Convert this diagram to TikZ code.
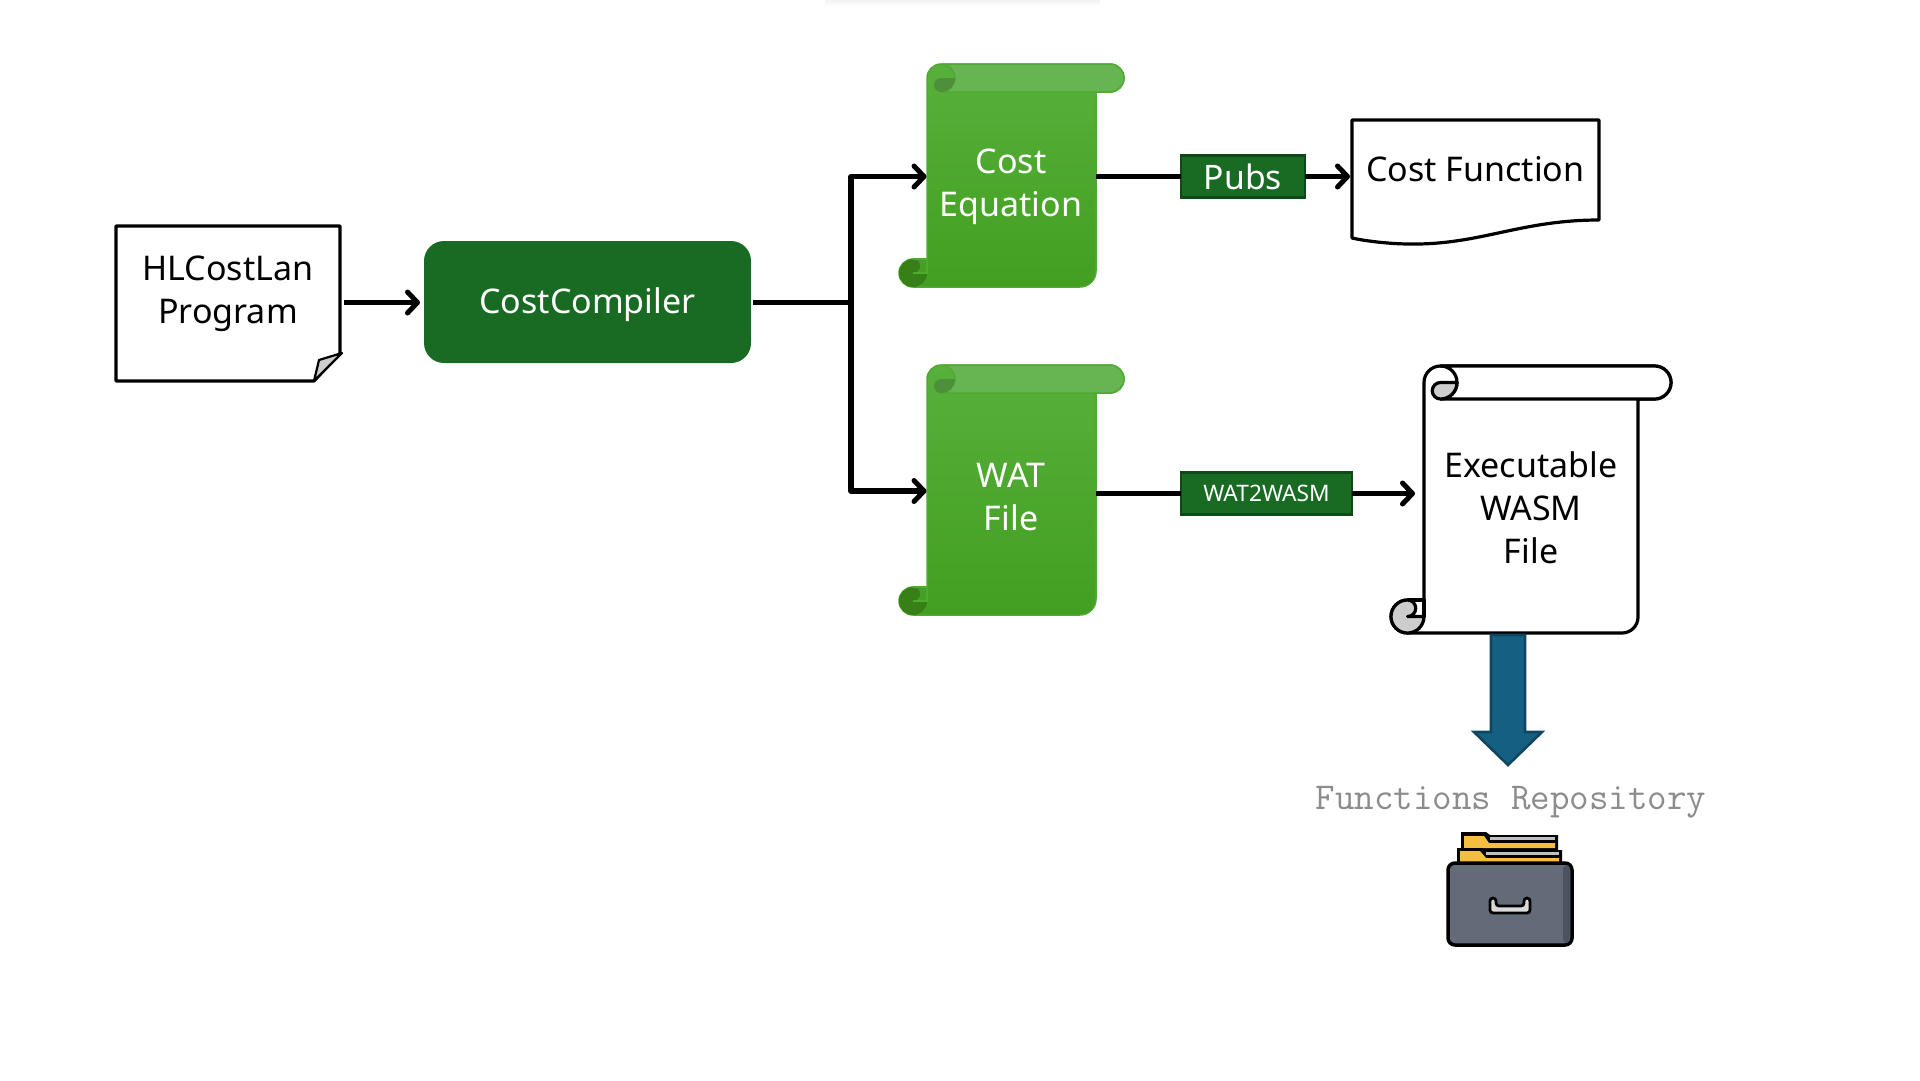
\documentclass[tikz,border=0pt]{standalone}
\usepackage{fontspec}
\setmainfont{Noto Sans}
\usetikzlibrary{arrows.meta,calc}
\definecolor{ccgreen}{HTML}{196B24}
\definecolor{ccedge}{HTML}{0E4A17}
\definecolor{topgreen}{HTML}{58B03C}
\definecolor{botgreen}{HTML}{429F20}
\definecolor{edgegreen}{HTML}{4EAA31}
\definecolor{rollgreen}{HTML}{66B552}
\definecolor{curlA}{HTML}{4E8F3C}
\definecolor{curlB}{HTML}{377F17}
\definecolor{curlgray}{HTML}{CDCDCD}
\definecolor{bluefill}{HTML}{156082}
\definecolor{blueedge}{HTML}{0F4761}
\definecolor{drawer}{HTML}{646B78}
\definecolor{drawerdark}{HTML}{4D535E}
\definecolor{folder}{HTML}{F4BE3F}
\tikzset{
  conn/.style={line width=5.4pt,draw=black},
  connarrow/.style={conn,-{Straight Barb[length=10pt,width=21pt,line width=5pt,round]}},
  outline/.style={draw=black,line width=3.2pt,line join=round},
  lbl/.style={inner sep=0pt,outer sep=0pt,align=center,font=\fontsize{34}{43}\selectfont},
  tagbox/.style={draw=ccedge,line width=2.8pt,fill=ccgreen,text=white,inner sep=0pt,outer sep=0pt},
}
% #1 L, #2 T, #3 R, #4 B, #5 roll right, #6 roll height, #7 bottom roll left, #8 bottom roll height, #9 body style
\newcommand{\scrollshape}[9]{%
  \pgfmathsetmacro{\hh}{#6/2}\pgfmathsetmacro{\hq}{#6/4}
  \pgfmathsetmacro{\Hh}{#8/2}\pgfmathsetmacro{\Hq}{#8/4}
  \pgfmathsetmacro{\cxb}{#7+\Hh}
  \path[#9] ({#1+\hh},#2) arc[start angle=270,end angle=180,radius=\hh]
    -- (#1,{#4-#8}) -- (\cxb,{#4-#8}) arc[start angle=270,end angle=90,radius=\Hh]
    -- ({#3-16},#4) arc[start angle=90,end angle=0,radius=16]
    -- (#3,{#2+#6}) -- ({#5-\hh},{#2+#6}) arc[start angle=90,end angle=-90,radius=\hh] -- cycle;
  \path[rollstyle] ({#1+\hh},#2) -- ({#5-\hh},#2) arc[start angle=-90,end angle=90,radius=\hh]
    -- ({#1+\hh},{#2+#6}) arc[start angle=90,end angle=-90,radius=\hh] -- cycle;
  \path[curlAstyle] ({#1+#6},{#2+\hh}) arc[start angle=0,end angle=90,radius=\hh]
    arc[start angle=90,end angle=270,radius=\hq] -- cycle;
  \path[curlBstyle] (\cxb,{#4-#8}) arc[start angle=270,end angle=90,radius=\Hh]
    arc[start angle=90,end angle=0,radius=\Hh] -- (\cxb,{#4-\Hh})
    arc[start angle=90,end angle=-90,radius=\Hq] -- cycle;
  \path[curlline] (\cxb,{#4-#8}) -- (#1,{#4-#8}) -- (#1,{#4-\Hh}) -- (\cxb,{#4-\Hh});
}
\begin{document}
\begin{tikzpicture}[x=1pt,y=1pt,yscale=-1]
\useasboundingbox (0,0) rectangle (1920,1080);
\fill[white] (0,0) rectangle (1920,1080);
\shade[top color=black!5,bottom color=white] (825,0) rectangle (1100,6);

% program document
\path[outline,fill=white] (116,226) -- (340,226) -- (340,353) -- (314,381) -- (116,381) -- cycle;
\path[outline,line width=2.2pt,fill=curlgray] (342,353) -- (319,360) -- (314,381) -- cycle;
\node[lbl,text width=224pt] (prog) at (228,294) {HLCostLan\\Program};

% compiler
\node[fill=ccgreen,rounded corners=20pt,minimum width=327pt,minimum height=122pt,inner sep=0pt,outer sep=2pt] (cc) at (587.5,302) {};
\node[text=white,inner sep=0pt,font=\fontsize{34}{43}\selectfont] (cclabel) at (587.5,305) {CostCompiler};

% green scrolls
\begin{scope}[
  rollstyle/.style={fill=rollgreen,draw=edgegreen,line width=1.5pt},
  curlAstyle/.style={fill=curlA,draw=none},
  curlBstyle/.style={fill=curlB,draw=none},
  curlline/.style={draw=edgegreen,line width=1.5pt}]
\scrollshape{927}{64}{1096}{287}{1124}{28}{899}{28}{top color=topgreen,bottom color=botgreen,draw=edgegreen,line width=1.5pt}
\scrollshape{927}{365}{1096}{615}{1124}{28}{899}{28}{top color=topgreen,bottom color=botgreen,draw=edgegreen,line width=1.5pt}
\end{scope}
\node[lbl,text=white,minimum width=169pt] (ce) at (1011,187) {Cost\\Equation};
\node[lbl,text=white,minimum width=169pt] (wat) at (1011,497) {WAT\\File};

% white scroll
\begin{scope}[
  rollstyle/.style={outline,fill=white},
  curlAstyle/.style={outline,fill=curlgray},
  curlBstyle/.style={outline,fill=curlgray},
  curlline/.style={outline}]
\scrollshape{1424}{366}{1638}{633}{1671}{33}{1391}{33}{outline,fill=white}
\end{scope}
\node[lbl,minimum width=214pt] (wasm) at (1531,508) {Executable\\WASM\\File};

% cost function document
\path[outline,fill=white] (1352,120) -- (1599,120) -- (1599,220)
  .. controls (1520,220) and (1480,245) .. (1410,244)
  .. controls (1390,244) and (1365,241) .. (1352,238) -- cycle;
\node[lbl,minimum width=247pt] (cf) at (1475.5,169) {Cost Function};

% tags
\node[tagbox,minimum width=124pt,minimum height=42pt,text depth=0pt,font=\fontsize{33.7}{38}\selectfont] (pubs) at (1243,176.5) {Pubs};
\node[tagbox,minimum width=171pt,minimum height=42pt,font=\fontsize{22.7}{26}\selectfont] (w2w) at (1266.5,493.5) {WAT2WASM};

% connectors
\coordinate (junction) at (851,302.5);
\draw[connarrow] (prog.east |- junction) ++(4,0) -- ([xshift=-2pt]cc.west |- junction);
\draw[conn] (cc.east |- junction) -- (junction);
\draw[connarrow,line join=round] (junction) -- (851,176.5) -- (ce.west |- pubs);
\draw[connarrow,line join=round] (junction) -- (851,491) -- (wat.west |- 0,491);
\draw[conn] (ce.east |- pubs) -- (pubs.west);
\draw[connarrow] (pubs.east) -- ([xshift=-2pt]cf.west |- pubs);
\draw[conn] (wat.east |- w2w) -- (w2w.west);
\draw[connarrow] (w2w.east) -- ([xshift=-9pt]wasm.west |- w2w);

% down arrow
\coordinate (repotop) at (1508,765);
\path[fill=bluefill,draw=blueedge,line width=2.6pt,line join=miter]
  (1491,635) -- (1525,635) -- (1525,732) -- (1542,732) -- (repotop) -- (1474,732) -- (1491,732) -- cycle;

% repository
\node[inner sep=0pt,text=black!45,font=\fontsize{37.9}{40}\selectfont\ttfamily] (repo) at (1511,802) {Functions Repository};

% cabinet icon
\begin{scope}[xshift=-1pt]
\path[fill=black] (1462,832) -- (1487,832) -- (1491,835) -- (1559,835) -- (1559,852) -- (1462,852) -- cycle;
\fill[folder] (1465,836) -- (1485,836) -- (1490,843) -- (1556,843) -- (1556,848) -- (1465,848) -- cycle;
\fill[black!25] (1491,837) -- (1556,837) -- (1556,840) -- (1491,840) -- cycle;
\path[fill=black] (1458,848) -- (1482,848) -- (1487,850) -- (1563,850) -- (1563,866) -- (1458,866) -- cycle;
\fill[folder] (1461,851) -- (1481,851) -- (1487,858) -- (1560,858) -- (1560,864) -- (1461,864) -- cycle;
\fill[black!25] (1487,852) -- (1560,852) -- (1560,855) -- (1487,855) -- cycle;
\path[draw=black,line width=3.5pt,fill=drawer,rounded corners=7pt] (1449,863) rectangle (1573,945);
\fill[drawerdark,rounded corners=4pt] (1564,865) rectangle (1571,943);
\path[draw=black,line width=2.8pt,fill=white!85!black,rounded corners=3pt] (1491,898) -- (1497,898) -- (1497,906) -- (1525,906) -- (1525,898) -- (1531,898) -- (1531,913) -- (1491,913) -- cycle;
\end{scope}
\end{tikzpicture}
\end{document}
